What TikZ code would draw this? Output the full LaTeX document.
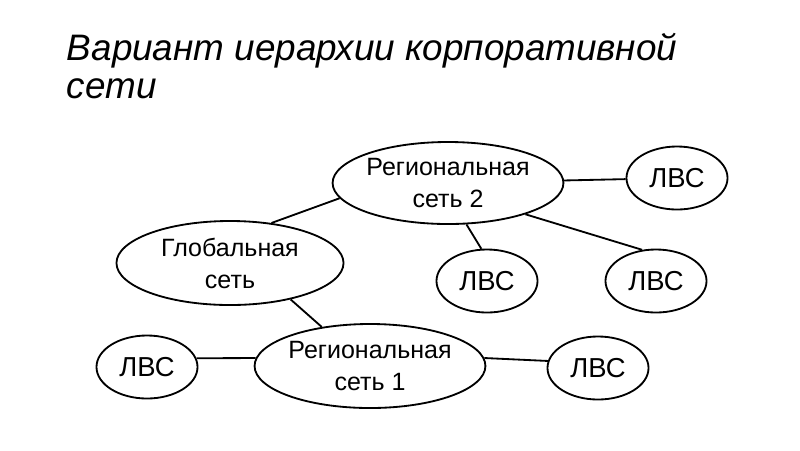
\documentclass[tikz,border=0pt]{standalone}
\usepackage{fontspec}
\setmainfont{Liberation Sans}
\usetikzlibrary{shapes,positioning}

\begin{document}
\begin{tikzpicture}[x=0.025cm, y=-0.025cm,
    net/.style={draw, ellipse, line width=1.3pt, inner sep=0pt, align=center, minimum width=5.75cm, minimum height=2.1cm, font=\fontsize{17.8}{22.8}\selectfont},
    lan/.style={draw, ellipse, line width=1.3pt, inner sep=0pt, minimum width=2.525cm, minimum height=1.575cm, font=\fontsize{19.5}{22.8}\selectfont},
    link/.style={line width=1.3pt}
]
\useasboundingbox (0,0) rectangle (800,450);
% Title
\node[anchor=base west, font=\fontsize{26.2}{27}\selectfont\itshape] (title1) at (62,60) {Вариант иерархии корпоративной};
\node[anchor=base west, font=\fontsize{26.2}{27}\selectfont\itshape] (title2) at (62,98) {сети};

% Networks
\node[net, minimum height=2.05cm] (reg2) at (448,183) {Региональная\\сеть 2};
\node[net, minimum width=5.675cm] (glob) at (230,263) {Глобальная\\сеть};
\node[net] (reg1) at (370,366) {Региональная\\сеть 1};

% LANs
\node[lan] (lan2a) at (677,178) {ЛВС};
\node[lan] (lan2b) at (487,281) {ЛВС};
\node[lan] (lan2c) at (656,281) {ЛВС};
\node[lan] (lan1a) at (147,367) {ЛВС};
\node[lan] (lan1b) at (598,368) {ЛВС};

% Links
\draw[link] (reg2) -- (lan2a);
\draw[link] (glob.44) -- (reg2.188);
\draw[link] (reg2.-66) -- (lan2b.100);
\draw[link] (reg2.-22) -- (lan2c.114);
\draw[link] (glob.-31) -- (reg1.141);
\draw[link] (lan1a.10) -- (reg1.176);
\draw[link] (reg1.4) -- (lan1b.172);
\end{tikzpicture}
\end{document}
